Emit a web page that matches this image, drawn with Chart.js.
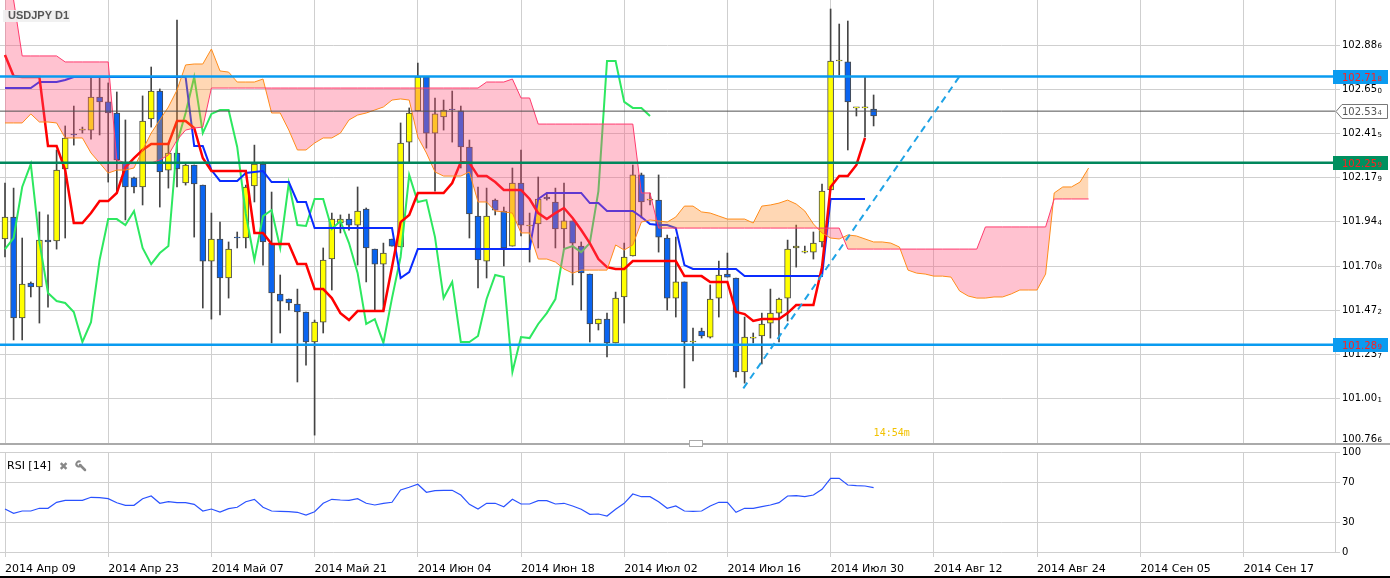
<!DOCTYPE html>
<html>
<head>
<meta charset="utf-8">
<title>USDJPY D1</title>
<script src="https://cdn.jsdelivr.net/npm/chart.js@4.4.1/dist/chart.umd.min.js"></script>
<style>
  html, body { margin: 0; padding: 0; background: #fff; }
  #wrap { position: relative; width: 1390px; height: 578px; overflow: hidden; background: #fff; }
  #mainChart { position: absolute; left: 0; top: 0; }
  #rsiChart { position: absolute; left: 0; top: 446px; }
  #sep { position: absolute; left: 0; top: 443px; width: 1390px; height: 2px; background: #aaa; }
  #handle { position: absolute; left: 689px; top: 440px; width: 12px; height: 5px; border: 1px solid #aaa; background: #fff; }
  #bottomLine { position: absolute; left: 0; top: 576px; width: 1390px; height: 2px; background: #000; }
</style>
</head>
<body>
<div id="wrap">
  <canvas id="mainChart" width="1390" height="450"></canvas>
  <div id="sep"></div>
  <div id="handle"></div>
  <canvas id="rsiChart" width="1390" height="132"></canvas>
  <div id="bottomLine"></div>
</div>
<script>
// USDJPY D1 - velas + Ichimoku + RSI (Chart.js)

// Etiquetas del eje de tiempo (una cada 12 velas)
const dateLabels = ['2014 Апр 09', '2014 Апр 23', '2014 Май 07', '2014 Май 21', '2014 Июн 04', '2014 Июн 18',
  '2014 Июл 02', '2014 Июл 16', '2014 Июл 30', '2014 Авг 12', '2014 Авг 24', '2014 Сен 05', '2014 Сен 17'];
const dateTickIdx = [0, 12, 24, 36, 48, 60, 72, 84, 96, 108, 120, 132, 144];

// Etiquetas del eje de precios
const priceTicks = [100.766, 101.001, 101.237, 101.472, 101.708, 101.944, 102.179, 102.415, 102.650, 102.886];
const rsiTicks = [0, 30, 70, 100];

// Velas (OHLC)
const opens = [101.853, 101.970, 101.432, 101.618, 101.597, 101.847, 101.842, 102.226, 102.412, 102.433,
  102.433, 102.609, 102.583, 102.524, 102.263, 102.178, 102.130, 102.492, 102.641, 102.220,
  102.311, 102.151, 102.247, 102.140, 101.735, 101.853, 101.645, 101.863, 101.858, 102.135,
  102.252, 101.831, 101.560, 101.533, 101.506, 101.464, 101.304, 101.410, 101.746, 101.938,
  101.959, 101.927, 102.012, 101.799, 101.719, 101.853, 101.810, 102.369, 102.535, 102.716,
  102.417, 102.503, 102.545, 102.535, 102.343, 101.975, 101.735, 102.060, 102.002, 101.815,
  102.151, 101.922, 101.933, 102.076, 102.050, 101.906, 101.949, 101.815, 101.666, 101.400,
  101.426, 101.299, 101.544, 101.762, 102.194, 102.060, 102.060, 101.858, 101.538, 101.624,
  101.304, 101.362, 101.330, 101.538, 101.666, 101.645, 101.144, 101.325, 101.336, 101.405,
  101.458, 101.538, 101.805, 101.783, 101.783, 101.837, 102.114, 102.801, 102.796, 102.551,
  102.551, 102.545];
const highs = [102.151, 102.124, 101.858, 101.624, 101.997, 101.981, 102.327, 102.455, 102.561, 102.449,
  102.710, 102.710, 102.684, 102.636, 102.487, 102.183, 102.615, 102.769, 102.652, 102.364,
  103.019, 102.258, 102.247, 102.140, 101.991, 101.943, 101.837, 101.890, 102.140, 102.353,
  102.263, 102.103, 101.661, 101.533, 101.586, 101.464, 101.421, 101.805, 101.991, 101.981,
  101.985, 102.130, 102.018, 101.799, 101.831, 101.853, 102.471, 102.551, 102.790, 102.716,
  102.604, 102.593, 102.641, 102.561, 102.380, 102.130, 102.124, 102.066, 102.023, 102.231,
  102.327, 101.991, 102.183, 102.097, 102.124, 102.151, 101.949, 101.837, 101.666, 101.426,
  101.458, 101.570, 101.831, 102.247, 102.204, 102.097, 102.194, 101.874, 101.863, 101.624,
  101.378, 101.378, 101.608, 101.735, 101.778, 101.645, 101.437, 101.352, 101.458, 101.586,
  101.538, 101.847, 101.927, 101.815, 101.890, 102.146, 103.078, 102.998, 103.014, 102.551,
  102.716, 102.620];
const lows = [101.757, 101.315, 101.315, 101.544, 101.405, 101.490, 101.799, 101.858, 102.353, 102.417,
  102.385, 102.407, 102.156, 102.098, 101.954, 102.098, 102.034, 102.449, 102.023, 102.124,
  102.130, 102.140, 101.863, 101.485, 101.426, 101.448, 101.538, 101.805, 101.805, 102.050,
  101.714, 101.299, 101.352, 101.474, 101.091, 101.181, 100.808, 101.352, 101.581, 101.885,
  101.900, 101.714, 101.624, 101.474, 101.474, 101.815, 101.810, 102.263, 102.535, 102.337,
  102.108, 102.433, 102.369, 102.231, 101.858, 101.592, 101.645, 101.981, 101.709, 101.815,
  101.869, 101.730, 101.805, 102.060, 101.805, 101.805, 101.608, 101.474, 101.304, 101.368,
  101.224, 101.299, 101.405, 101.762, 101.965, 102.034, 101.783, 101.474, 101.437, 101.059,
  101.203, 101.325, 101.325, 101.437, 101.650, 101.117, 101.085, 101.299, 101.187, 101.325,
  101.304, 101.416, 101.703, 101.778, 101.746, 101.810, 102.114, 102.726, 102.327, 102.508,
  102.396, 102.455];
const closes = [101.970, 101.432, 101.613, 101.597, 101.847, 101.837, 102.220, 102.391, 102.407, 102.439,
  102.609, 102.583, 102.524, 102.274, 102.130, 102.130, 102.481, 102.641, 102.210, 102.311,
  102.226, 102.247, 102.146, 101.735, 101.853, 101.645, 101.799, 101.858, 102.130, 102.252,
  101.837, 101.565, 101.522, 101.512, 101.464, 101.304, 101.410, 101.741, 101.959, 101.959,
  101.927, 102.002, 101.805, 101.719, 101.778, 101.815, 102.364, 102.524, 102.716, 102.417,
  102.519, 102.540, 102.540, 102.343, 101.986, 101.741, 101.975, 102.007, 101.805, 102.151,
  101.927, 101.922, 102.066, 102.066, 101.906, 101.949, 101.831, 101.672, 101.400, 101.426,
  101.299, 101.538, 101.757, 102.194, 102.050, 102.060, 101.863, 101.538, 101.624, 101.304,
  101.304, 101.336, 101.533, 101.661, 101.650, 101.144, 101.330, 101.325, 101.400, 101.458,
  101.533, 101.799, 101.815, 101.783, 101.831, 102.108, 102.801, 102.801, 102.583, 102.551,
  102.551, 102.508];

// Ichimoku
const tenkan = [102.833, 102.721, 102.716, 102.716, 102.716, 102.348, 102.348, 102.220, 101.938, 101.938,
  101.991, 102.055, 102.055, 102.098, 102.236, 102.284, 102.327, 102.359, 102.359, 102.359,
  102.481, 102.481, 102.444, 102.284, 102.215, 102.215, 102.215, 102.215, 102.215, 101.885,
  101.885, 101.826, 101.826, 101.826, 101.719, 101.719, 101.586, 101.586, 101.538, 101.458,
  101.421, 101.469, 101.469, 101.469, 101.469, 101.703, 101.943, 101.981, 102.098, 102.098,
  102.098, 102.098, 102.151, 102.263, 102.258, 102.188, 102.188, 102.156, 102.114, 102.114,
  102.114, 102.066, 101.991, 101.959, 101.991, 102.018, 101.965, 101.901, 101.831, 101.746,
  101.703, 101.693, 101.693, 101.735, 101.735, 101.735, 101.735, 101.735, 101.735, 101.655,
  101.655, 101.655, 101.624, 101.624, 101.624, 101.464, 101.453, 101.416, 101.426, 101.426,
  101.426, 101.458, 101.501, 101.501, 101.501, 101.703, 102.130, 102.188, 102.188, 102.247,
  102.391];
const kijun = [102.657, 102.657, 102.657, 102.657, 102.689, 102.689, 102.689, 102.700, 102.716, 102.716,
  102.716, 102.716, 102.716, 102.716, 102.716, 102.716, 102.716, 102.716, 102.716, 102.716,
  102.716, 102.716, 102.348, 102.348, 102.220, 102.162, 102.162, 102.162, 102.204, 102.210,
  102.215, 102.156, 102.156, 102.156, 102.050, 102.050, 101.911, 101.911, 101.911, 101.911,
  101.911, 101.911, 101.911, 101.911, 101.911, 101.911, 101.645, 101.677, 101.799, 101.799,
  101.799, 101.799, 101.799, 101.799, 101.799, 101.799, 101.799, 101.799, 101.799, 101.799,
  101.799, 101.799, 102.066, 102.098, 102.098, 102.098, 102.098, 102.098, 102.044, 102.044,
  102.002, 102.002, 102.002, 102.002, 101.970, 101.933, 101.927, 101.927, 101.911, 101.714,
  101.693, 101.693, 101.693, 101.693, 101.693, 101.693, 101.655, 101.655, 101.655, 101.655,
  101.655, 101.655, 101.655, 101.655, 101.655, 101.655, 102.066, 102.066, 102.066, 102.066,
  102.066];
const senkouA = [102.471, 102.471, 102.471, 102.519, 102.476, 102.476, 102.471, 102.391, 102.391, 102.391,
  102.311, 102.258, 102.204, 102.220, 102.220, 102.231, 102.327, 102.417, 102.487, 102.556,
  102.646, 102.780, 102.785, 102.785, 102.865, 102.748, 102.742, 102.689, 102.689, 102.689,
  102.705, 102.524, 102.524, 102.433, 102.327, 102.327, 102.364, 102.391, 102.391, 102.417,
  102.487, 102.513, 102.524, 102.540, 102.556, 102.593, 102.599, 102.593, 102.396, 102.311,
  102.210, 102.188, 102.188, 102.188, 102.210, 102.050, 102.050, 102.002, 101.997, 101.991,
  101.885, 101.885, 101.746, 101.746, 101.730, 101.693, 101.671, 101.687, 101.687, 101.687,
  101.687, 101.821, 101.794, 101.821, 101.943, 101.954, 101.949, 101.943, 101.970, 102.028,
  102.028, 101.997, 101.991, 101.975, 101.959, 101.959, 101.959, 101.938, 102.028, 102.034,
  102.044, 102.060, 102.039, 102.002, 101.933, 101.885, 101.858, 101.853, 101.874, 101.869,
  101.853, 101.837, 101.837, 101.831, 101.810, 101.687, 101.671, 101.666, 101.655, 101.655,
  101.650, 101.576, 101.549, 101.538, 101.538, 101.544, 101.544, 101.560, 101.581, 101.581,
  101.581, 101.666, 102.098, 102.130, 102.130, 102.156, 102.231];
const senkouB = [103.201, 103.126, 102.828, 102.828, 102.828, 102.828, 102.828, 102.796, 102.796, 102.796,
  102.796, 102.796, 102.796, 102.274, 102.258, 102.258, 102.258, 102.258, 102.274, 102.300,
  102.380, 102.433, 102.444, 102.449, 102.657, 102.657, 102.657, 102.657, 102.657, 102.657,
  102.657, 102.657, 102.657, 102.657, 102.657, 102.657, 102.657, 102.657, 102.657, 102.657,
  102.657, 102.657, 102.657, 102.657, 102.657, 102.657, 102.657, 102.657, 102.657, 102.657,
  102.657, 102.657, 102.657, 102.657, 102.657, 102.657, 102.689, 102.689, 102.689, 102.705,
  102.604, 102.604, 102.465, 102.465, 102.465, 102.465, 102.465, 102.465, 102.465, 102.465,
  102.465, 102.465, 102.465, 102.465, 102.098, 102.098, 101.911, 101.911, 101.911, 101.911,
  101.911, 101.911, 101.911, 101.911, 101.911, 101.911, 101.911, 101.911, 101.911, 101.911,
  101.911, 101.911, 101.911, 101.911, 101.911, 101.911, 101.911, 101.911, 101.799, 101.799,
  101.799, 101.799, 101.799, 101.799, 101.799, 101.799, 101.799, 101.799, 101.799, 101.799,
  101.799, 101.799, 101.799, 101.799, 101.917, 101.917, 101.917, 101.917, 101.917, 101.917,
  101.917, 101.917, 102.066, 102.066, 102.066, 102.066, 102.066];
const chikouShift = 26;

// Niveles horizontales y línea de tendencia
const levelValues = [102.718, 102.534, 102.259, 101.289];
const trendX = [85.85, 110.97];
const trendY = [101.057, 102.718];

// RSI(14)
const rsiValues = [43, 38.7, 41, 41, 43.7, 43.7, 49.7, 51.7, 51.7, 51.7,
  54.7, 54.3, 53.3, 49.3, 46.7, 46.7, 53.3, 56, 48.7, 50.3,
  49.3, 49.3, 47.7, 41, 43, 40, 43.3, 44.7, 50.3, 52.7,
  44.7, 41, 40.7, 40.3, 39.7, 37, 40.3, 48.7, 52.7, 52,
  51.7, 53.3, 48.7, 47, 48.7, 49.7, 62, 64.7, 67.7, 59.7,
  61.3, 61.7, 61.7, 57, 47.7, 43, 48.7, 48.7, 45.3, 52.7,
  48, 48, 51.3, 51.3, 48, 48.7, 46, 42.7, 37.7, 38,
  36, 42.7, 48.7, 58, 55.3, 55.3, 50.3, 43.7, 46, 41,
  40.7, 41, 46, 49.7, 49.7, 39.7, 43.7, 43.7, 45.3, 47,
  49.3, 56, 56.3, 55.3, 57, 62.7, 73.7, 73.7, 67, 66.3,
  66, 64.3];

// Configuración
const X_MIN = -0.5814;
const X_MAX = 154.65;
const GRID = '#cfcfcf';
const FONT = '"DejaVu Sans", Verdana, sans-serif';
const levelStyle = [
  { line: '#0a9bf0', width: 2.5, box: '#0a9bf0', text: '#ff2020' },
  { line: '#505050', width: 1, box: null, text: '#555' },
  { line: '#00875c', width: 2.5, box: '#00905f', text: '#ff2020' },
  { line: '#0a9bf0', width: 2.5, box: '#0a9bf0', text: '#ff2020' }
];

Chart.defaults.font.family = FONT;
Chart.defaults.font.size = 10;
Chart.defaults.color = '#000';

const xy = (arr, offset = 0) => arr.map((v, i) => ({ x: i + offset, y: v }));

// Precio con el último dígito pequeño (estilo del terminal)
function drawPrice(ctx, v, x, y, color) {
  const s = v.toFixed(3);
  const head = s.slice(0, -1);
  ctx.fillStyle = color;
  ctx.font = '10px ' + FONT;
  ctx.fillText(head, x, y);
  const w = ctx.measureText(head).width;
  ctx.font = '7px ' + FONT;
  ctx.fillText(s.slice(-1), x + w + 0.5, y + 1.5);
}

function timeAxis(showLabels) {
  return {
    type: 'linear',
    min: X_MIN,
    max: X_MAX,
    offset: false,
    afterBuildTicks: s => { s.ticks = dateTickIdx.map(v => ({ value: v })); },
    ticks: {
      display: showLabels,
      autoSkip: false,
      maxRotation: 0,
      minRotation: 0,
      align: 'start',
      padding: 6,
      font: { size: 11 },
      callback: (v, i) => dateLabels[i]
    },
    grid: { color: GRID, offset: false, drawTicks: showLabels, tickLength: 5 },
    border: { display: false },
    afterFit: s => {
      s.height = showLabels ? 26 : 0;
      s.paddingLeft = 0;
      s.paddingRight = 0;
    }
  };
}

function valueAxis(min, max, tickValues, fmt, showLabels) {
  return {
    position: 'right',
    min: min,
    max: max,
    afterBuildTicks: s => { s.ticks = tickValues.map(v => ({ value: v })); },
    ticks: { display: showLabels, padding: 2, color: '#000', callback: fmt },
    grid: { color: GRID, tickLength: 5 },
    border: { color: GRID },
    afterFit: s => {
      s.width = 55;
      s.paddingTop = 0;
      s.paddingBottom = 0;
    }
  };
}

// Textos y etiquetas sobre el panel principal
const mainOverlay = {
  id: 'mainOverlay',
  afterDraw(chart) {
    const { ctx, chartArea, scales } = chart;
    const yS = scales.y;
    const xS = scales.x;
    ctx.save();
    ctx.textBaseline = 'middle';
    ctx.textAlign = 'left';

    // etiquetas del eje de precios
    yS.ticks.forEach(t => {
      const py = yS.getPixelForValue(t.value);
      drawPrice(ctx, t.value, chartArea.right + 7, Math.min(py, 439), '#000');
    });

    levelValues.forEach((v, k) => {
      const st = levelStyle[k];
      const py = Math.round(yS.getPixelForValue(v));
      const x0 = chartArea.right - 2;
      if (st.box) {
        ctx.fillStyle = st.box;
        ctx.fillRect(x0, py - 7, 55, 14);
      } else {
        ctx.beginPath();
        ctx.moveTo(x0 + 3, py + 0.5);
        ctx.lineTo(x0 + 9, py - 6.5);
        ctx.lineTo(1387.5, py - 6.5);
        ctx.lineTo(1387.5, py + 7.5);
        ctx.lineTo(x0 + 9, py + 7.5);
        ctx.closePath();
        ctx.fillStyle = '#fff';
        ctx.fill();
        ctx.strokeStyle = '#777';
        ctx.lineWidth = 1;
        ctx.stroke();
      }
      drawPrice(ctx, v, chartArea.right + 7, py + 1, st.text);
    });

    // Título del símbolo
    ctx.fillStyle = 'rgba(240,240,240,0.92)';
    ctx.fillRect(3, 10, 67, 12);
    ctx.fillStyle = '#555';
    ctx.font = 'bold 11px "Liberation Sans", Arial, sans-serif';
    ctx.fillText('USDJPY D1', 8, 16);

    // Tiempo restante de la vela
    ctx.fillStyle = '#f2c200';
    ctx.font = '10px "DejaVu Sans Mono", monospace';
    ctx.fillText('14:54m', xS.getPixelForValue(closes.length - 1), 433);
    ctx.restore();
  }
};

const rsiOverlay = {
  id: 'rsiOverlay',
  afterDraw(chart) {
    const { ctx } = chart;
    ctx.save();
    ctx.textBaseline = 'middle';
    ctx.textAlign = 'left';
    ctx.fillStyle = '#000';
    ctx.font = '11px ' + FONT;
    ctx.fillText('RSI [14]', 7, 20);
    ctx.fillStyle = '#888';
    ctx.font = 'bold 11px ' + FONT;
    ctx.fillText('\u2716', 59, 21);
    // llave
    ctx.strokeStyle = '#888';
    ctx.lineCap = 'round';
    ctx.lineWidth = 2.5;
    ctx.beginPath();
    ctx.moveTo(80, 19);
    ctx.lineTo(85, 24);
    ctx.stroke();
    ctx.lineWidth = 2;
    ctx.beginPath();
    ctx.arc(79, 18, 2.6, 0.2 * Math.PI, 1.6 * Math.PI);
    ctx.stroke();
    ctx.restore();
  }
};

// Velas
const bodyColors = opens.map((o, i) => (closes[i] >= o ? '#ffff00' : '#0a64f0'));

const lineDs = (data, color, width, order, extra = {}) => Object.assign({
  type: 'line',
  data: data,
  borderColor: color,
  borderWidth: width,
  pointRadius: 0,
  tension: 0,
  fill: false,
  order: order
}, extra);

const datasets = [
  {
    type: 'bar',
    data: lows.map((l, i) => ({ x: i, y: [l, highs[i]] })),
    backgroundColor: '#444',
    borderWidth: 0,
    barThickness: 1,
    grouped: false,
    order: 30
  },
  {
    type: 'bar',
    data: opens.map((o, i) => ({ x: i, y: [o, closes[i]] })),
    backgroundColor: bodyColors,
    borderColor: '#4a4a4a',
    borderWidth: 1,
    borderSkipped: false,
    barThickness: 6,
    minBarLength: 1,
    grouped: false,
    order: 29
  },
  lineDs(xy(closes.slice(chikouShift)), '#2de860', 2, 28),
  lineDs(xy(kijun), '#0a2cff', 2, 27),
  lineDs(xy(tenkan), '#ff0000', 2.5, 26),
  lineDs(xy(senkouB), '#ff3a6e', 1, 24),
  lineDs(xy(senkouA), '#ff8c1a', 1, 25, {
    fill: { target: 5, above: 'rgba(255,140,40,0.35)', below: 'rgba(255,80,120,0.35)' }
  })
];

levelValues.forEach((v, k) => {
  datasets.push(lineDs([{ x: X_MIN - 1, y: v }, { x: X_MAX + 1, y: v }],
    levelStyle[k].line, levelStyle[k].width, 10 - k));
});

datasets.push(lineDs(trendX.map((x, i) => ({ x: x, y: trendY[i] })), '#1fa3e6', 2, 1,
  { borderDash: [7, 5] }));

new Chart(document.getElementById('mainChart'), {
  type: 'bar',
  data: { datasets: datasets },
  options: {
    responsive: false,
    animation: false,
    layout: { padding: { top: 0, bottom: 7, left: 0, right: 0 } },
    plugins: {
      legend: { display: false },
      tooltip: { enabled: false },
      filler: { propagate: false }
    },
    scales: {
      x: timeAxis(false),
      y: valueAxis(100.766, 103.126, priceTicks, v => Number(v).toFixed(3), false)
    }
  },
  plugins: [mainOverlay]
});

new Chart(document.getElementById('rsiChart'), {
  type: 'line',
  data: {
    datasets: [lineDs(xy(rsiValues), '#2a52ff', 1.2, 0)]
  },
  options: {
    responsive: false,
    animation: false,
    layout: { padding: { top: 6, bottom: 0, left: 0, right: 0 } },
    plugins: {
      legend: { display: false },
      tooltip: { enabled: false }
    },
    scales: {
      x: timeAxis(true),
      y: valueAxis(0, 100, rsiTicks, v => String(v), true)
    }
  },
  plugins: [rsiOverlay]
});
</script>
</body>
</html>
